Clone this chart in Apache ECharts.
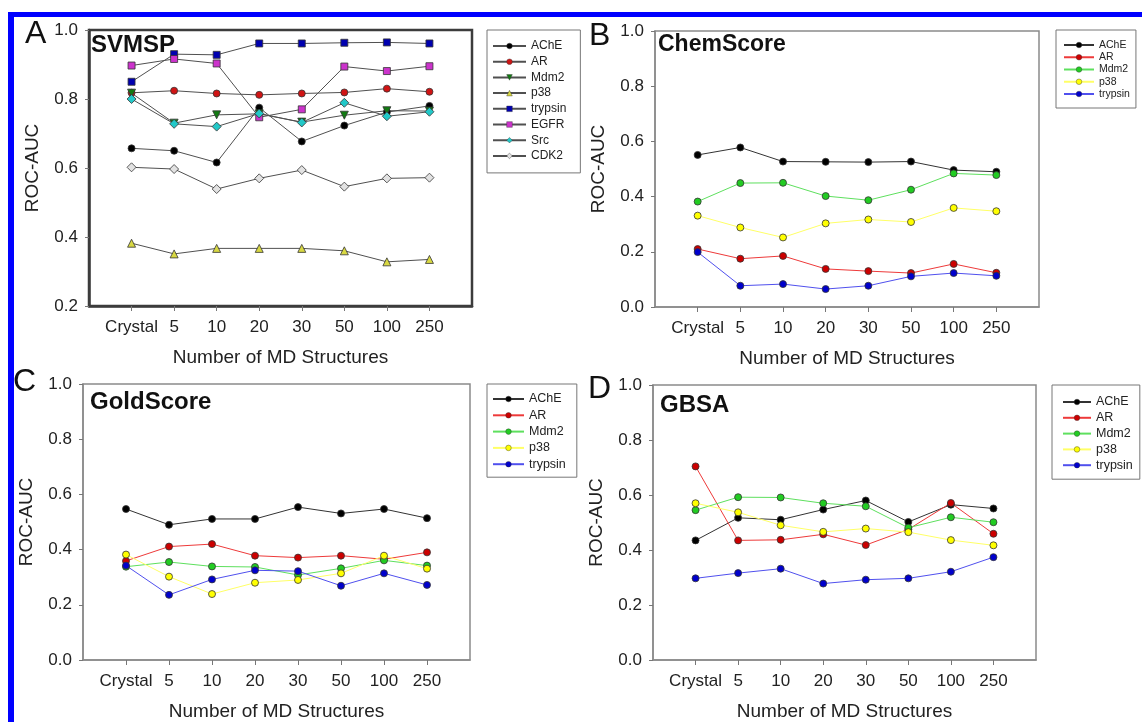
<!DOCTYPE html>
<html>
<head>
<meta charset="utf-8">
<script src="https://cdn.jsdelivr.net/npm/echarts@6/dist/echarts.min.js"></script>
<style>
  html, body { margin: 0; padding: 0; background: #fff; }
  #chart { width: 1142px; height: 722px; }
</style>
</head>
<body>
<div id="chart"></div>
<script>
// x categories (number of MD structures)
var cats = ['Crystal', '5', '10', '20', '30', '50', '100', '250']

// A - SVMSP
var svmspAChE = [0.657, 0.650, 0.616, 0.775, 0.677, 0.723, 0.762, 0.780]
var svmspAR = [0.818, 0.824, 0.816, 0.812, 0.816, 0.819, 0.830, 0.821]
var svmspMdm2 = [0.817, 0.730, 0.754, 0.757, 0.733, 0.753, 0.766, 0.765]
var svmspP38 = [0.382, 0.351, 0.367, 0.367, 0.367, 0.360, 0.328, 0.335]
var svmspTrypsin = [0.850, 0.930, 0.928, 0.961, 0.961, 0.963, 0.964, 0.961]
var svmspEGFR = [0.897, 0.916, 0.903, 0.747, 0.770, 0.894, 0.881, 0.895]
var svmspSrc = [0.800, 0.728, 0.720, 0.758, 0.732, 0.789, 0.750, 0.763]
var svmspCDK2 = [0.602, 0.597, 0.539, 0.570, 0.594, 0.546, 0.570, 0.572]

// B - ChemScore
var chemAChE = [0.551, 0.578, 0.527, 0.526, 0.525, 0.527, 0.496, 0.490]
var chemAR = [0.210, 0.175, 0.185, 0.138, 0.130, 0.123, 0.156, 0.124]
var chemMdm2 = [0.382, 0.449, 0.450, 0.402, 0.387, 0.425, 0.484, 0.478]
var chemP38 = [0.331, 0.288, 0.252, 0.303, 0.317, 0.308, 0.359, 0.347]
var chemTrypsin = [0.199, 0.077, 0.083, 0.065, 0.077, 0.111, 0.123, 0.113]

// C - GoldScore
var goldAChE = [0.547, 0.490, 0.511, 0.511, 0.554, 0.531, 0.547, 0.514]
var goldAR = [0.359, 0.411, 0.420, 0.378, 0.371, 0.378, 0.365, 0.390]
var goldMdm2 = [0.338, 0.355, 0.339, 0.337, 0.308, 0.332, 0.361, 0.342]
var goldP38 = [0.382, 0.302, 0.239, 0.280, 0.290, 0.314, 0.378, 0.331]
var goldTrypsin = [0.342, 0.236, 0.292, 0.325, 0.322, 0.269, 0.314, 0.272]

// D - GBSA
var gbsaAChE = [0.435, 0.517, 0.510, 0.547, 0.580, 0.502, 0.565, 0.551]
var gbsaAR = [0.704, 0.435, 0.437, 0.457, 0.418, 0.475, 0.571, 0.459]
var gbsaMdm2 = [0.545, 0.592, 0.591, 0.570, 0.559, 0.481, 0.519, 0.501]
var gbsaP38 = [0.570, 0.537, 0.490, 0.466, 0.478, 0.465, 0.436, 0.417]
var gbsaTrypsin = [0.297, 0.316, 0.332, 0.278, 0.292, 0.297, 0.321, 0.374]

var yTicksA = [0.2, 0.4, 0.6, 0.8, 1.0]
var yTicks = [0.0, 0.2, 0.4, 0.6, 0.8, 1.0]

var font = 'Liberation Sans, Arial, sans-serif'
// blank slot at each end so the points sit one step in from the frame
var xCats = [''].concat(cats, [''])

var grids = [
  { left: 89, top: 30, width: 383, height: 276, border: '#3c3c3c', bw: 2.5 },
  { left: 655, top: 31, width: 384, height: 276, border: '#8a8a8a', bw: 1.5 },
  { left: 83, top: 384, width: 387, height: 276, border: '#8a8a8a', bw: 1.5 },
  { left: 653, top: 385, width: 383, height: 276, border: '#8a8a8a', bw: 1.5 }
]

function toPairs (values) {
  return values.map(function (v, i) { return [i + 1, v] })
}

function makeSeries (g, key, name, values, look) {
  return {
    name: key + ':' + name,
    type: 'line',
    xAxisIndex: g,
    yAxisIndex: g,
    data: toPairs(values),
    symbol: look.symbol,
    symbolSize: look.size,
    symbolRotate: look.rotate || 0,
    lineStyle: { color: look.line, width: 1 },
    itemStyle: { color: look.fill, borderColor: '#333', borderWidth: 0.8 },
    emphasis: { disabled: true },
    animation: false
  }
}

var lookA = {
  AChE: { symbol: 'circle', size: 7, fill: '#000000', line: '#505050' },
  AR: { symbol: 'circle', size: 7, fill: '#d01414', line: '#505050' },
  Mdm2: { symbol: 'triangle', size: 8, rotate: 180, fill: '#127a12', line: '#505050' },
  p38: { symbol: 'triangle', size: 8, fill: '#d8d842', line: '#505050' },
  trypsin: { symbol: 'rect', size: 7, fill: '#0000b0', line: '#505050' },
  EGFR: { symbol: 'rect', size: 7, fill: '#cc33cc', line: '#505050' },
  Src: { symbol: 'diamond', size: 9, fill: '#22c8c8', line: '#505050' },
  CDK2: { symbol: 'diamond', size: 9, fill: '#e2e2e2', line: '#505050' }
}
var lookB = {
  AChE: { symbol: 'circle', size: 7, fill: '#000000', line: '#333333' },
  AR: { symbol: 'circle', size: 7, fill: '#cc0000', line: '#ee3a3a' },
  Mdm2: { symbol: 'circle', size: 7, fill: '#22cc22', line: '#5ee05e' },
  p38: { symbol: 'circle', size: 7, fill: '#ffff00', line: '#ffff66' },
  trypsin: { symbol: 'circle', size: 7, fill: '#0000cc', line: '#5050ee' }
}

var series = []
var panelA = [['AChE', svmspAChE], ['AR', svmspAR], ['Mdm2', svmspMdm2], ['p38', svmspP38],
  ['trypsin', svmspTrypsin], ['EGFR', svmspEGFR], ['Src', svmspSrc], ['CDK2', svmspCDK2]]
var panelB = [['AChE', chemAChE], ['AR', chemAR], ['Mdm2', chemMdm2], ['p38', chemP38], ['trypsin', chemTrypsin]]
var panelC = [['AChE', goldAChE], ['AR', goldAR], ['Mdm2', goldMdm2], ['p38', goldP38], ['trypsin', goldTrypsin]]
var panelD = [['AChE', gbsaAChE], ['AR', gbsaAR], ['Mdm2', gbsaMdm2], ['p38', gbsaP38], ['trypsin', gbsaTrypsin]]

var panels = [['A', panelA, lookA], ['B', panelB, lookB], ['C', panelC, lookB], ['D', panelD, lookB]]
panels.forEach(function (p, g) {
  p[1].forEach(function (s) {
    series.push(makeSeries(g, p[0], s[0], s[1], p[2][s[0]]))
  })
})

var gridOpt = grids.map(function (g) {
  return {
    left: g.left, top: g.top, width: g.width, height: g.height,
    show: true, borderColor: g.border, borderWidth: g.bw, backgroundColor: 'transparent'
  }
})

var xAxes = grids.map(function (g, i) {
  return {
    type: 'category',
    gridIndex: i,
    data: xCats,
    boundaryGap: false,
    axisLine: { lineStyle: { color: g.border, width: g.bw } },
    axisTick: {
      interval: function (idx, v) { return v !== '' },
      length: 5,
      lineStyle: { color: '#777' }
    },
    axisLabel: { interval: 0, margin: 13, fontSize: 17, color: '#222', fontFamily: font },
    splitLine: { show: false },
    name: 'Number of MD Structures',
    nameLocation: 'middle',
    nameGap: 42,
    nameTextStyle: { fontSize: 19, color: '#222', fontFamily: font }
  }
})

var yAxes = grids.map(function (g, i) {
  var ticks = i === 0 ? yTicksA : yTicks
  return {
    type: 'value',
    gridIndex: i,
    min: ticks[0],
    max: ticks[ticks.length - 1],
    interval: 0.2,
    axisLine: { show: true, lineStyle: { color: g.border, width: g.bw } },
    axisTick: { show: true, length: 4, lineStyle: { color: '#777' } },
    axisLabel: {
      margin: 11, fontSize: 17, color: '#222', fontFamily: font,
      formatter: function (v) { return v.toFixed(1) }
    },
    splitLine: { show: false },
    name: 'ROC-AUC',
    nameLocation: 'middle',
    nameGap: 47,
    nameTextStyle: { fontSize: 19, color: '#222', fontFamily: font }
  }
})

function makeLegend (key, list, pos) {
  return {
    orient: 'vertical',
    left: pos.left,
    top: pos.top,
    data: list.map(function (s) { return key + ':' + s[0] }),
    formatter: function (n) { return n.split(':')[1] },
    itemWidth: pos.iw,
    itemHeight: 7,
    itemGap: pos.gap,
    itemStyle: { borderWidth: 0.4 },
    padding: pos.pad,
    borderColor: '#777',
    borderWidth: 1,
    backgroundColor: '#fff',
    selectedMode: false,
    textStyle: { fontSize: pos.fs, lineHeight: pos.lh, color: '#222', fontFamily: font }
  }
}

var legends = [
  makeLegend('A', panelA, { left: 487, top: 30, iw: 33, gap: 1.7, pad: [9, 14, 10, 5], fs: 12, lh: 14 }),
  makeLegend('B', panelB, { left: 1056, top: 30, iw: 30, gap: 0.25, pad: [9, 6, 8, 7], fs: 10.5, lh: 12 }),
  makeLegend('C', panelC, { left: 487, top: 384, iw: 31, gap: 2.3, pad: [8, 11, 6, 5], fs: 12.5, lh: 14 }),
  makeLegend('D', panelD, { left: 1052, top: 385, iw: 28, gap: 1.8, pad: [10, 7, 7, 10], fs: 12.5, lh: 14 })
]

function label (text, left, top, size, weight) {
  return {
    text: text, left: left, top: top, padding: 0,
    textStyle: { fontSize: size, fontWeight: weight, color: '#111', fontFamily: font }
  }
}

var titles = [
  label('A', 25, 18, 32, 'normal'),
  label('B', 589, 20, 32, 'normal'),
  label('C', 13, 366, 32, 'normal'),
  label('D', 588, 373, 32, 'normal'),
  label('SVMSP', 91, 33, 24, 'bold'),
  label('ChemScore', 658, 33, 23, 'bold'),
  label('GoldScore', 90, 390, 24, 'bold'),
  label('GBSA', 660, 393, 24, 'bold')
]

var chart = echarts.init(document.getElementById('chart'), null, { renderer: 'canvas' })
var option = {
  backgroundColor: '#fff',
  animation: false,
  title: titles,
  legend: legends,
  grid: gridOpt,
  xAxis: xAxes,
  yAxis: yAxes,
  series: series,
  graphic: [
    { type: 'rect', shape: { x: 8, y: 12, width: 1134, height: 5 }, style: { fill: '#0000ff' }, silent: true },
    { type: 'rect', shape: { x: 8, y: 12, width: 6, height: 710 }, style: { fill: '#0000ff' }, silent: true }
  ]
}
chart.setOption(option)
</script>
</body>
</html>
